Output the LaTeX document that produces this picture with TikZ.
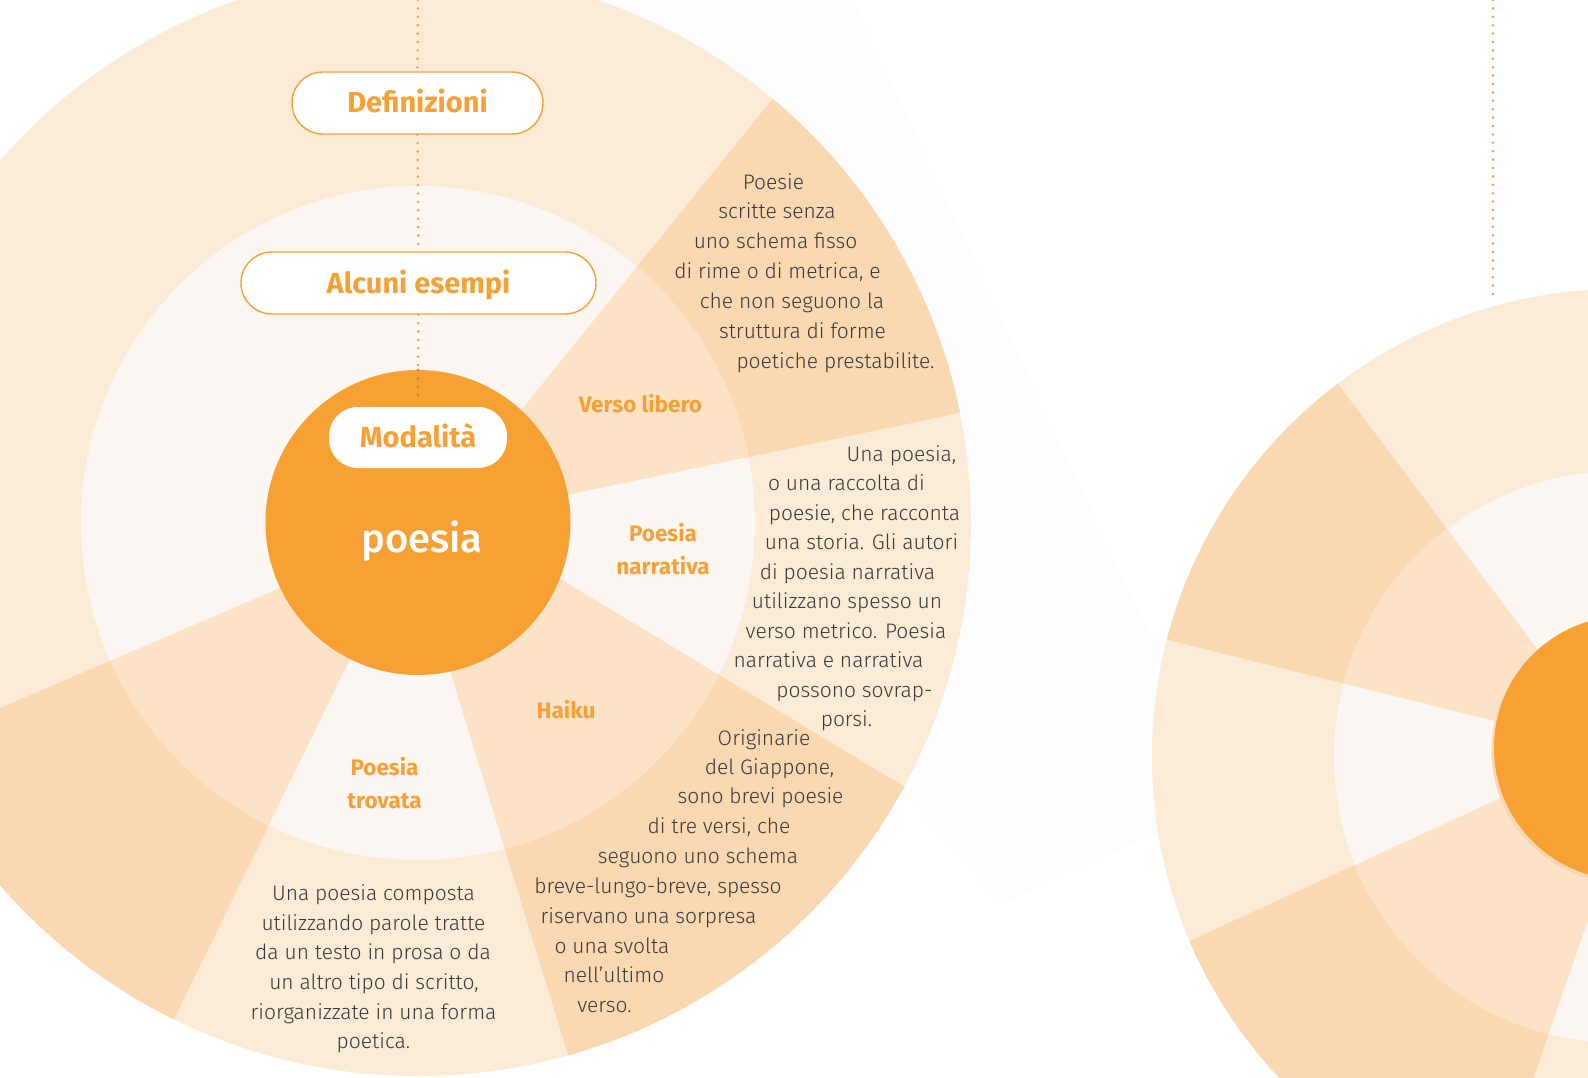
\documentclass[tikz,border=0pt]{standalone}
\usepackage{fontspec}
\setmainfont{Fira Sans Light}
\newfontfamily\fbold{Fira Sans Bold}
\newfontfamily\fmed{Fira Sans Medium}
\usetikzlibrary{calc}
\definecolor{odark}{RGB}{250,216,178}
\definecolor{olight}{RGB}{252,235,215}
\definecolor{idark}{RGB}{252,227,200}
\definecolor{ilight}{RGB}{252,247,242}
\definecolor{orng}{RGB}{247,161,53}
\definecolor{dorng}{RGB}{232,112,30}
\definecolor{txt}{RGB}{58,58,58}
\definecolor{shadowc}{RGB}{253,253,253}
\definecolor{coreshadow}{RGB}{248,214,176}
\begin{document}
\begin{tikzpicture}[x=1pt,y=-1pt,
  desc/.style={anchor=base, inner sep=0pt, text=txt, font=\fontsize{21}{25}\selectfont},
  lab/.style={anchor=base, inner sep=0pt, text=orng, font=\fbold\fontsize{22.5}{26}\selectfont},
  pill/.style={draw=orng, line width=1.4pt, fill=white, rounded corners=31pt, minimum height=62pt,
    inner sep=0pt, text=orng, text height=20pt, text depth=0pt, font=\fbold\fontsize{29}{31}\selectfont},
  dots/.style={draw=orng, line width=2.8pt, line cap=round, dash pattern=on 0pt off 8.4pt},
  core/.style={circle, fill=orng, inner sep=0pt},
]
\useasboundingbox (0,0) rectangle (1588,1078);
\fill[white] (0,0) rectangle (1588,1078);
% faint cast shadow
\fill[shadowc] (700,560) -- (560,0) -- (853,0) -- (1227,800) -- (1000,905) -- cycle;

% ---------- left wheel ----------
\coordinate (LC) at (418,523);
\begin{scope}
  \clip (LC) circle[radius=553pt];
  \fill[olight] (LC) circle[radius=553pt];
  \fill[odark] (LC) -- (514,419) -- (834.5,22.2) -- (1150,-100) -- (1057.9,392.5) -- (562,496) -- cycle;
  \fill[odark] (LC) -- (554,575) -- (992.3,840.1) -- (900,1300) -- (597.5,1150.6) -- (447,661) -- cycle;
  \fill[odark] (LC) -- (353,653) -- (113,1144) -- (-300,1100) -- (-184,787) -- (287,585) -- cycle;
\end{scope}
\begin{scope}
  \clip (LC) circle[radius=337pt];
  \fill[ilight] (LC) circle[radius=337pt];
  \fill[idark] (LC) -- (514,419) -- (834.5,22.2) -- (1150,-100) -- (1057.9,392.5) -- (562,496) -- cycle;
  \fill[idark] (LC) -- (554,575) -- (992.3,840.1) -- (900,1300) -- (597.5,1150.6) -- (447,661) -- cycle;
  \fill[idark] (LC) -- (353,653) -- (113,1144) -- (-300,1100) -- (-184,787) -- (287,585) -- cycle;
\end{scope}

% ---------- right wheel ----------
\coordinate (RC) at (1620,757);
\coordinate (RO) at (1626,748);
\begin{scope}
  \clip (RC) circle[radius=468pt];
  \fill[olight] (RC) circle[radius=468pt];
  \fill[odark] (RO) -- (1604.3,872.8) -- (1457.6,1298) -- (1150,1350) -- (1100.9,981.8) -- (1513.6,792) -- cycle;
  \fill[odark] (RO) -- (1542.7,656.3) -- (1277.3,303.3) -- (1000,300) -- (1071,615.7) -- (1506.4,724.1) -- cycle;
\end{scope}
\begin{scope}
  \clip (RC) circle[radius=286pt];
  \fill[ilight] (RC) circle[radius=286pt];
  \fill[idark] (RO) -- (1604.3,872.8) -- (1457.6,1298) -- (1150,1350) -- (1100.9,981.8) -- (1513.6,792) -- cycle;
  \fill[idark] (RO) -- (1542.7,656.3) -- (1277.3,303.3) -- (1000,300) -- (1071,615.7) -- (1506.4,724.1) -- cycle;
\end{scope}

% ---------- cores ----------
\fill[coreshadow] (1624,750.5) circle[radius=132.5pt];
\node[core, minimum size=305pt] (lcore) at (418,522.5) {};
\node[core, minimum size=264pt] (rcore) at (RO) {};

% ---------- boxes ----------
\node[pill, minimum width=251pt] (def) at (417.5,103) {Definizioni};
\node[pill, minimum width=355pt] (alc) at (418.5,283) {Alcuni esempi};
\node[pill, draw=none, minimum width=178pt, minimum height=61pt, rounded corners=29pt] (mod) at (418,437.5) {Modalità};
\node[anchor=base, inner sep=0pt, text=white, font=\fmed\fontsize{40}{44}\selectfont] (ptxt) at (422,552) {poesia};

% ---------- dotted connectors ----------
\coordinate (ltop) at (418,0);
\coordinate (ctop) at (418,370);
\coordinate (mtop) at (418,401);
\draw[dots] (ltop) -- (def.north);
\draw[dots] (def.south) -- (alc.north);
\draw[dots] (alc.south) -- (ctop);
\draw[dots, draw=dorng] (ctop) -- (mtop);
\coordinate (rtop) at (1493,0);
\coordinate (rend) at (1493,297);
\draw[dots] (rtop) -- (rend);

% ---------- sector labels ----------
\node[lab] (lv) at (640.5,412) {Verso libero};
\node[lab] (ln1) at (663,541) {Poesia};
\node[lab] (ln2) at (663,574) {narrativa};
\node[lab] (lh) at (566,718) {Haiku};
\node[lab] (lt1) at (384.5,775) {Poesia};
\node[lab] (lt2) at (384.5,808) {trovata};

% ---------- descriptions ----------
\foreach \px/\py/\tx [count=\i] in {
  773.5/190/{Poesie}, 777/219/{scritte senza}, 775.5/248/{uno schema fisso},
  777.5/278/{di rime o di metrica, e}, 792/308/{che non seguono la},
  802.5/338/{struttura di forme}, 835.5/368/{poetiche prestabilite.}}
  \node[desc] (v\i) at (\px,\py) {\tx};
\foreach \px/\py/\tx [count=\i] in {
  901.5/461/{Una poesia,}, 846.5/490.5/{o una raccolta di}, 864.5/520/{poesie, che racconta},
  861.5/549.5/{una storia. Gli autori}, 847.5/579/{di poesia narrativa},
  847/608.5/{utilizzano spesso un}, 846/638/{verso metrico. Poesia},
  828.5/667.5/{narrativa e narrativa}, 854.5/697/{possono sovrap-}, 846.5/726.5/{porsi.}}
  \node[desc] (n\i) at (\px,\py) {\tx};
\foreach \px/\py/\tx [count=\i] in {
  764/745/{Originarie}, 769.5/774/{del Giappone,}, 760.5/803/{sono brevi poesie},
  719/833/{di tre versi, che}, 698/863/{seguono uno schema},
  658/893/{breve-lungo-breve, spesso}, 648.5/923/{riservano una sorpresa},
  612/953/{o una svolta}, 614/982/{nell’ultimo}, 604.5/1012/{verso.}}
  \node[desc] (h\i) at (\px,\py) {\tx};
\foreach \px/\py/\tx [count=\i] in {
  373.5/900/{Una poesia composta}, 373.5/930/{utilizzando parole tratte},
  373/959/{da un testo in prosa o da}, 374/989/{un altro tipo di scritto,},
  373.5/1019/{riorganizzate in una forma}, 373.5/1048/{poetica.}}
  \node[desc] (t\i) at (\px,\py) {\tx};
\end{tikzpicture}
\end{document}
